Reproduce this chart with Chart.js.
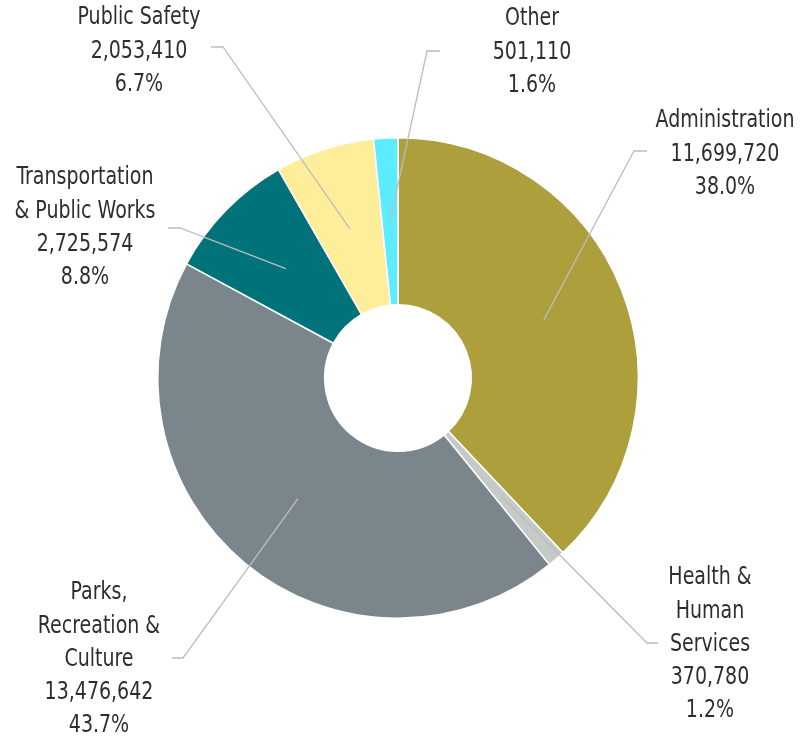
<!DOCTYPE html>
<html>
<head>
<meta charset="utf-8">
<script src="https://cdn.jsdelivr.net/npm/chart.js@4.4.1/dist/chart.umd.min.js"></script>
<style>
  html, body { margin: 0; padding: 0; background: #fff; }
  #wrap { width: 800px; height: 738px; }
</style>
</head>
<body>
<div id="wrap"><canvas id="budgetChart" width="800" height="738"></canvas></div>
<script>
const categories = [
  ['Administration'],
  ['Health &', 'Human', 'Services'],
  ['Parks,', 'Recreation &', 'Culture'],
  ['Transportation', '& Public Works'],
  ['Public Safety'],
  ['Other']
];
const amounts = [11699720, 370780, 13476642, 2725574, 2053410, 501110];
const colors = ['#AD9F3C', '#C3CAC8', '#7B868C', '#00737A', '#FFEE99', '#5CEBFF'];

// label block placement: text centre x, first line y, leader elbow (outer x, inner x, y)
const labelLayout = [
  { x: 725, y: 121, ex0: 647, ex1: 634, ey: 151 },
  { x: 710, y: 578, ex0: 658, ex1: 647, ey: 643 },
  { x: 99, y: 593, ex0: 172, ex1: 183, ey: 658 },
  { x: 85, y: 178, ex0: 168, ex1: 180, ey: 228 },
  { x: 139, y: 18, ex0: 211, ex1: 223, ey: 47 },
  { x: 532, y: 19, ex0: 440, ex1: 427, ey: 51 }
];

const FONT = '24px "DejaVu Sans Condensed", "Liberation Sans Narrow", sans-serif';
const SQUEEZE = 0.88;
const LINE_H = 33.3;

const leaderLabels = {
  id: 'leaderLabels',
  afterDatasetsDraw(chart) {
    const { ctx } = chart;
    const meta = chart.getDatasetMeta(0);
    const total = amounts.reduce((a, b) => a + b, 0);
    ctx.save();

    meta.data.forEach((arc, i) => {
      const lay = labelLayout[i];
      const lines = [
        ...categories[i],
        amounts[i].toLocaleString('en-US'),
        (amounts[i] / total * 100).toFixed(1) + '%'
      ];

      const mid = (arc.startAngle + arc.endAngle) / 2;
      const r = (arc.innerRadius + arc.outerRadius) / 2;
      const px = arc.x + Math.cos(mid) * r;
      const py = arc.y + Math.sin(mid) * r;

      ctx.strokeStyle = '#BDBDBD';
      ctx.lineWidth = 1.3;
      ctx.beginPath();
      ctx.moveTo(lay.ex0, lay.ey);
      ctx.lineTo(lay.ex1, lay.ey);
      ctx.lineTo(px, py);
      ctx.stroke();

      ctx.fillStyle = '#2E2E2E';
      ctx.font = FONT;
      ctx.textAlign = 'center';
      ctx.textBaseline = 'middle';
      lines.forEach((l, k) => {
        ctx.save();
        ctx.translate(lay.x, lay.y + k * LINE_H);
        ctx.scale(SQUEEZE, 1);
        ctx.fillText(l, 0, 0);
        ctx.restore();
      });
    });
    ctx.restore();
  }
};

new Chart(document.getElementById('budgetChart'), {
  type: 'doughnut',
  data: {
    labels: categories.map((c) => c.join(' ')),
    datasets: [{
      data: amounts,
      backgroundColor: colors,
      borderColor: '#FFFFFF',
      borderWidth: 1.5
    }]
  },
  options: {
    responsive: false,
    animation: false,
    cutout: '30.5%',
    layout: { padding: { left: 157, right: 161, top: 137, bottom: 119 } },
    plugins: {
      legend: { display: false },
      tooltip: { enabled: false }
    }
  },
  plugins: [leaderLabels]
});
</script>
</body>
</html>
